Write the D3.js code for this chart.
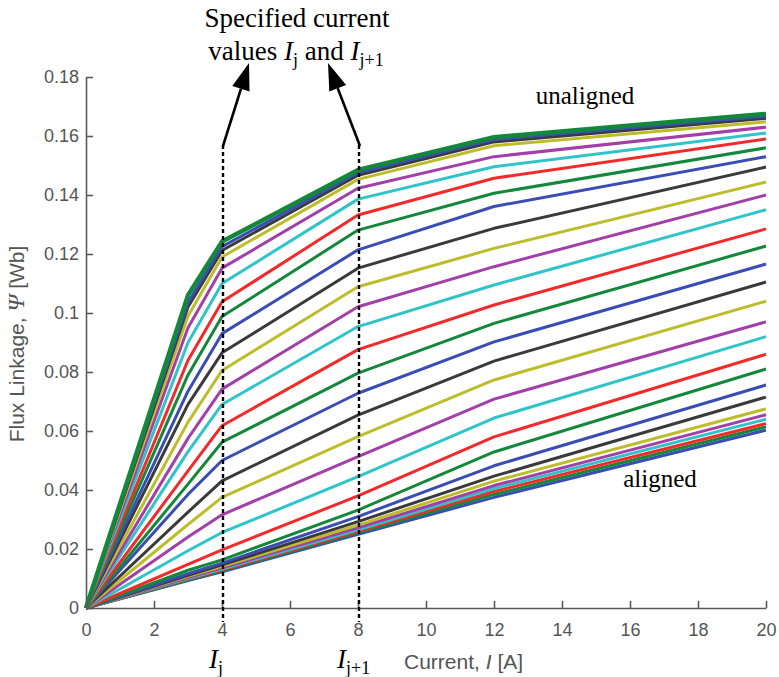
<!DOCTYPE html>
<html>
<head>
<meta charset="utf-8">
<script src="https://cdn.jsdelivr.net/npm/d3@7"></script>
<style>
  body { margin: 0; background: #fff; }
  svg { display: block; }
</style>
</head>
<body>
<svg id="chart" width="779" height="677"></svg>
<script>
// current breakpoints [A]
const currents = [0, 3, 4, 8, 12, 20];

// flux linkage curves, from the aligned (bottom) one up to the unaligned (top) one
const fluxCurves = [
  [0, 0.0093, 0.0123, 0.0250, 0.0375, 0.0603],
  [0, 0.0095, 0.0126, 0.0255, 0.0385, 0.0614],
  [0, 0.0098, 0.0129, 0.0260, 0.0395, 0.0625],
  [0, 0.0100, 0.0132, 0.0265, 0.0405, 0.0640],
  [0, 0.0103, 0.0136, 0.0272, 0.0415, 0.0655],
  [0, 0.0107, 0.0141, 0.0281, 0.0430, 0.0675],
  [0, 0.0111, 0.0146, 0.0293, 0.0447, 0.0715],
  [0, 0.0116, 0.0152, 0.0310, 0.0482, 0.0756],
  [0, 0.0128, 0.0163, 0.0332, 0.0529, 0.0810],
  [0, 0.0148, 0.0197, 0.0380, 0.0580, 0.0860],
  [0, 0.0194, 0.0256, 0.0445, 0.0644, 0.0920],
  [0, 0.0241, 0.0316, 0.0513, 0.0708, 0.0970],
  [0, 0.0283, 0.0375, 0.0581, 0.0773, 0.1040],
  [0, 0.0325, 0.0431, 0.0654, 0.0837, 0.1105],
  [0, 0.0385, 0.0500, 0.0728, 0.0902, 0.1166],
  [0, 0.0420, 0.0562, 0.0796, 0.0965, 0.1227],
  [0, 0.0465, 0.0618, 0.0876, 0.1027, 0.1285],
  [0, 0.0530, 0.0690, 0.0954, 0.1095, 0.1350],
  [0, 0.0575, 0.0742, 0.1021, 0.1157, 0.1400],
  [0, 0.0630, 0.0805, 0.1089, 0.1219, 0.1444],
  [0, 0.0690, 0.0865, 0.1152, 0.1287, 0.1495],
  [0, 0.0735, 0.0930, 0.1214, 0.1361, 0.1530],
  [0, 0.0790, 0.0988, 0.1281, 0.1406, 0.1560],
  [0, 0.0840, 0.1038, 0.1332, 0.1457, 0.1590],
  [0, 0.0900, 0.1100, 0.1386, 0.1496, 0.1610],
  [0, 0.0950, 0.1152, 0.1423, 0.1530, 0.1630],
  [0, 0.0990, 0.1190, 0.1453, 0.1567, 0.1648],
  [0, 0.1020, 0.1212, 0.1467, 0.1580, 0.1660],
  [0, 0.1035, 0.1225, 0.1476, 0.1588, 0.1667],
  [0, 0.1060, 0.1242, 0.1485, 0.1596, 0.1675]
];

// matlab style colour order b g r c m y k
const lineColors = ['#3a4db5', '#14883a', '#f22a2a', '#2ec4c8', '#a23fa8', '#bdbd2c', '#3a3a3a'];

const xTicks = [0, 2, 4, 6, 8, 10, 12, 14, 16, 18, 20];
const yTicks = [0, 0.02, 0.04, 0.06, 0.08, 0.1, 0.12, 0.14, 0.16, 0.18];
const markedCurrents = [4, 8];

const svg = d3.select('#chart');
const plot = { left: 86, right: 766, top: 77, bottom: 608 };

const x = d3.scaleLinear().domain([0, 20]).range([plot.left, plot.right]);
const y = d3.scaleLinear().domain([0, 0.18]).range([plot.bottom, plot.top]);

// curves
const line = d3.line()
  .x((d, i) => x(currents[i]))
  .y(d => y(d));

const curvesGroup = svg.append('g').attr('id', 'curves');
fluxCurves.forEach((curve, i) => {
  curvesGroup.append('path')
    .datum(curve)
    .attr('fill', 'none')
    .attr('stroke', lineColors[i % lineColors.length])
    .attr('stroke-width', i === fluxCurves.length - 1 ? 4.5 : 3)
    .attr('stroke-linejoin', 'round')
    .attr('d', line);
});

// axes, ticks point inward
const axisColor = '#5a5a5a';
const sans = '"Liberation Sans", Arial, sans-serif';
const serif = '"Liberation Serif", "Times New Roman", serif';

const xAxis = svg.append('g')
  .attr('transform', `translate(0, ${plot.bottom})`)
  .call(d3.axisBottom(x).tickValues(xTicks).tickSizeInner(-7).tickSizeOuter(0).tickPadding(15));

const yAxis = svg.append('g')
  .attr('transform', `translate(${plot.left}, 0)`)
  .call(d3.axisLeft(y).tickValues(yTicks).tickSizeInner(-7).tickSizeOuter(0).tickPadding(7)
    .tickFormat(d => d === 0 ? '0' : String(+d.toFixed(2))));

[xAxis, yAxis].forEach(ax => {
  ax.select('.domain').attr('stroke', axisColor).attr('stroke-width', 1.6);
  ax.selectAll('.tick line').attr('stroke', axisColor).attr('stroke-width', 1.6);
  ax.selectAll('.tick text')
    .attr('fill', '#555')
    .style('font-family', sans)
    .style('font-size', '18px');
});

// dashed markers at the specified currents
markedCurrents.forEach(c => {
  svg.append('line')
    .attr('x1', x(c) + 1).attr('x2', x(c) + 1)
    .attr('y1', 145).attr('y2', 622)
    .attr('stroke', '#000')
    .attr('stroke-width', 2.4)
    .attr('stroke-dasharray', '4,3');
});

// arrows from the top of the dashed lines up to the annotation
function arrow(x0, y0, x1, y1) {
  const len = 27, half = 9;
  const ang = Math.atan2(y1 - y0, x1 - x0);
  const bx = x1 - len * Math.cos(ang), by = y1 - len * Math.sin(ang);
  const px = -Math.sin(ang) * half, py = Math.cos(ang) * half;
  svg.append('line')
    .attr('x1', x0).attr('y1', y0).attr('x2', bx).attr('y2', by)
    .attr('stroke', '#000').attr('stroke-width', 2.6);
  svg.append('path')
    .attr('d', `M${x1},${y1} L${bx + px},${by + py} L${bx - px},${by - py} Z`)
    .attr('fill', '#000');
}
arrow(x(4) + 1, 146, 249, 63);
arrow(x(8) + 2, 146, 328, 63);

svg.append('text')
  .attr('x', 297).attr('y', 27)
  .attr('text-anchor', 'middle')
  .style('font-family', serif).style('font-size', '27px')
  .text('Specified current');

const values = svg.append('text')
  .attr('x', 296).attr('y', 60)
  .attr('text-anchor', 'middle')
  .style('font-family', serif).style('font-size', '27px');
values.append('tspan').text('values ');
values.append('tspan').style('font-style', 'italic').text('I');
values.append('tspan').attr('dy', 6).style('font-size', '18px').text('j');
values.append('tspan').attr('dy', -6).text(' and ');
values.append('tspan').style('font-style', 'italic').text('I');
values.append('tspan').attr('dy', 6).style('font-size', '18px').text('j+1');

svg.append('text')
  .attr('x', 585).attr('y', 104)
  .attr('text-anchor', 'middle')
  .style('font-family', serif).style('font-size', '25px')
  .text('unaligned');

svg.append('text')
  .attr('x', 660).attr('y', 487)
  .attr('text-anchor', 'middle')
  .style('font-family', serif).style('font-size', '25px')
  .text('aligned');

// I_j and I_j+1 below the axis
const ij = svg.append('text')
  .attr('x', x(4) - 6).attr('y', 668)
  .attr('text-anchor', 'middle')
  .style('font-family', serif).style('font-size', '27px');
ij.append('tspan').style('font-style', 'italic').text('I');
ij.append('tspan').attr('dy', 6).style('font-size', '18px').text('j');

const ij1 = svg.append('text')
  .attr('x', 337).attr('y', 668)
  .style('font-family', serif).style('font-size', '27px');
ij1.append('tspan').style('font-style', 'italic').text('I');
ij1.append('tspan').attr('dy', 6).style('font-size', '18px').text('j+1');

// x label
const xLabel = svg.append('text')
  .attr('x', 404).attr('y', 669)
  .attr('fill', '#555')
  .style('font-family', sans).style('font-size', '21px');
xLabel.append('tspan').text('Current, ');
xLabel.append('tspan').style('font-style', 'italic').text('I');
xLabel.append('tspan').text(' [A]');

// y label
const yLabel = svg.append('text')
  .attr('transform', 'translate(24, 344) rotate(-90)')
  .attr('text-anchor', 'middle')
  .attr('fill', '#555')
  .style('font-family', sans).style('font-size', '21px');
yLabel.append('tspan').text('Flux Linkage,  ');
yLabel.append('tspan').style('font-family', serif).style('font-style', 'italic').style('font-size', '24px').text('Ψ');
yLabel.append('tspan').text(' [Wb]');
</script>
</body>
</html>
